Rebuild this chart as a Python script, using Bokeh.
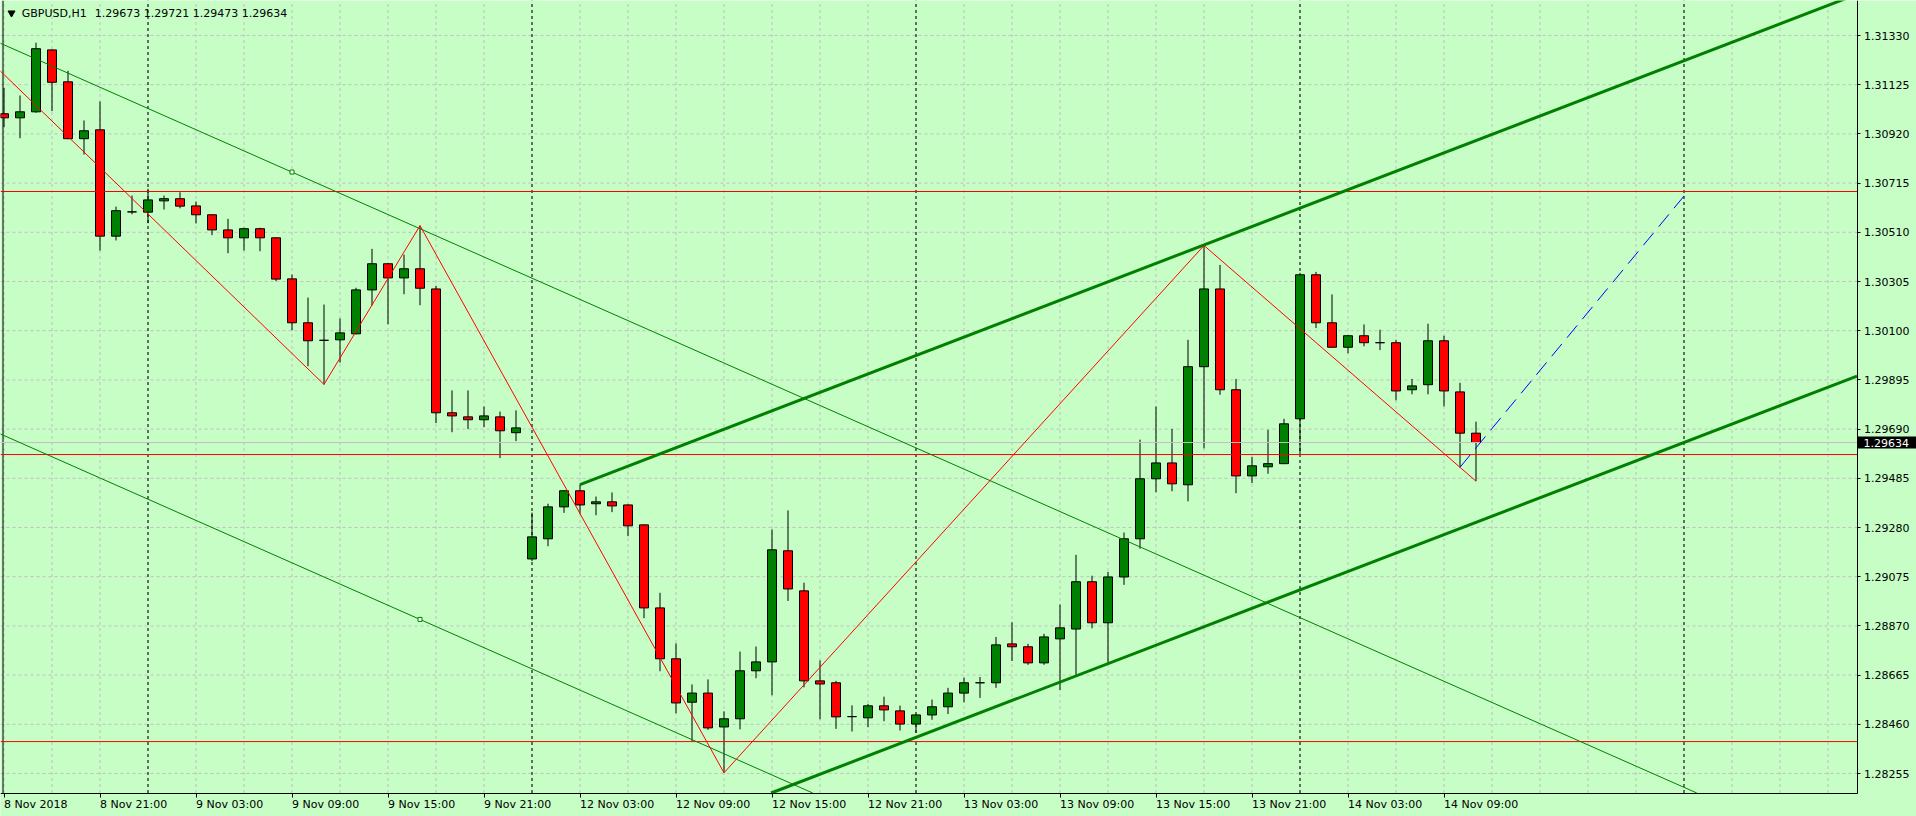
from bokeh.plotting import figure
from bokeh.models import FixedTicker, ColumnDataSource, Label
from bokeh.core.properties import value
from bokeh.embed import file_html
from bokeh.resources import INLINE

# ---------------- data ----------------
symbol_title = "GBPUSD,H1"
header_values = ["1.29673", "1.29721", "1.29473", "1.29634"]

opens = [1.31004, 1.30987, 1.31012, 1.31270, 1.31137, 1.30900, 1.30937, 1.30494, 1.30595, 1.30594,
         1.30641, 1.30650, 1.30620, 1.30583, 1.30520, 1.30487, 1.30525, 1.30487, 1.30316, 1.30133,
         1.30060, 1.30062, 1.30087, 1.30270, 1.30379, 1.30320, 1.30358, 1.30274, 1.29758, 1.29741,
         1.29729, 1.29741, 1.29675, 1.29149, 1.29233, 1.29366, 1.29433, 1.29379, 1.29387, 1.29374,
         1.29291, 1.28945, 1.28733, 1.28552, 1.28590, 1.28449, 1.28483, 1.28683, 1.28720, 1.29183,
         1.29016, 1.28641, 1.28633, 1.28492, 1.28487, 1.28537, 1.28516, 1.28461, 1.28499, 1.28533,
         1.28590, 1.28633, 1.28633, 1.28795, 1.28783, 1.28716, 1.28816, 1.28857, 1.29054, 1.28883,
         1.29074, 1.29233, 1.29483, 1.29549, 1.29458, 1.29950, 1.30274, 1.29854, 1.29495, 1.29533,
         1.29546, 1.29733, 1.30333, 1.30133, 1.30031, 1.30079, 1.30050, 1.30050, 1.29854, 1.29875,
         1.30058, 1.29845, 1.29673]
highs = [1.31112, 1.31080, 1.31300, 1.31272, 1.31183, 1.30976, 1.31055, 1.30617, 1.30663, 1.30691,
         1.30663, 1.30677, 1.30638, 1.30585, 1.30566, 1.30529, 1.30529, 1.30489, 1.30334, 1.30238,
         1.30209, 1.30151, 1.30279, 1.30441, 1.30381, 1.30417, 1.30538, 1.30287, 1.29851, 1.29851,
         1.29784, 1.29763, 1.29768, 1.29342, 1.29379, 1.29436, 1.29459, 1.29409, 1.29426, 1.29376,
         1.29293, 1.29008, 1.28797, 1.28626, 1.28647, 1.28514, 1.28763, 1.28784, 1.29272, 1.29351,
         1.29050, 1.28726, 1.28641, 1.28539, 1.28545, 1.28575, 1.28538, 1.28501, 1.28563, 1.28612,
         1.28654, 1.28657, 1.28824, 1.28885, 1.28795, 1.28837, 1.28959, 1.29166, 1.29079, 1.29095,
         1.29259, 1.29646, 1.29784, 1.29691, 1.30062, 1.30455, 1.30374, 1.29899, 1.29574, 1.29687,
         1.29733, 1.30341, 1.30345, 1.30251, 1.30081, 1.30126, 1.30104, 1.30062, 1.29899, 1.30129,
         1.30079, 1.29883, 1.29721]
lows = [1.30948, 1.30902, 1.31008, 1.31015, 1.30898, 1.30834, 1.30434, 1.30476, 1.30585, 1.30548,
        1.30605, 1.30610, 1.30547, 1.30498, 1.30423, 1.30434, 1.30431, 1.30306, 1.30102, 1.29952,
        1.29876, 1.29967, 1.30085, 1.30205, 1.30127, 1.30252, 1.30206, 1.29715, 1.29677, 1.29690,
        1.29698, 1.29569, 1.29640, 1.29140, 1.29202, 1.29341, 1.29337, 1.29331, 1.29344, 1.29244,
        1.28902, 1.28681, 1.28506, 1.28389, 1.28437, 1.28258, 1.28439, 1.28652, 1.28581, 1.28974,
        1.28614, 1.28481, 1.28441, 1.28430, 1.28448, 1.28473, 1.28434, 1.28425, 1.28479, 1.28503,
        1.28552, 1.28570, 1.28612, 1.28724, 1.28708, 1.28708, 1.28603, 1.28666, 1.28860, 1.28716,
        1.29041, 1.29192, 1.29427, 1.29431, 1.29389, 1.29610, 1.29833, 1.29423, 1.29465, 1.29504,
        1.29544, 1.29583, 1.30111, 1.30029, 1.30006, 1.30035, 1.30019, 1.29810, 1.29835, 1.29835,
        1.29785, 1.29531, 1.29473]
closes = [1.30987, 1.31012, 1.31275, 1.31135, 1.30900, 1.30933, 1.30494, 1.30600, 1.30595, 1.30645,
          1.30650, 1.30619, 1.30583, 1.30520, 1.30487, 1.30525, 1.30487, 1.30315, 1.30133, 1.30058,
          1.30060, 1.30091, 1.30270, 1.30379, 1.30320, 1.30358, 1.30277, 1.29758, 1.29745, 1.29729,
          1.29745, 1.29683, 1.29695, 1.29241, 1.29366, 1.29433, 1.29374, 1.29387, 1.29370, 1.29287,
          1.28945, 1.28733, 1.28549, 1.28590, 1.28445, 1.28483, 1.28683, 1.28720, 1.29187, 1.29024,
          1.28641, 1.28628, 1.28491, 1.28492, 1.28537, 1.28520, 1.28461, 1.28499, 1.28533, 1.28590,
          1.28633, 1.28633, 1.28791, 1.28783, 1.28716, 1.28824, 1.28862, 1.29054, 1.28883, 1.29074,
          1.29233, 1.29483, 1.29549, 1.29462, 1.29950, 1.30274, 1.29854, 1.29495, 1.29537, 1.29546,
          1.29712, 1.30333, 1.30133, 1.30031, 1.30079, 1.30050, 1.30050, 1.29849, 1.29870, 1.30058,
          1.29849, 1.29673, 1.29634]
bar_index = list(range(len(opens)))

x_tick_bars = [0, 6, 12, 18, 24, 30, 36, 42, 48, 54, 60, 66, 72, 78, 84, 90]
x_tick_labels = ["8 Nov 2018", "8 Nov 21:00", "9 Nov 03:00", "9 Nov 09:00", "9 Nov 15:00",
                 "9 Nov 21:00", "12 Nov 03:00", "12 Nov 09:00", "12 Nov 15:00", "12 Nov 21:00",
                 "13 Nov 03:00", "13 Nov 09:00", "13 Nov 15:00", "13 Nov 21:00", "14 Nov 03:00",
                 "14 Nov 09:00"]
x_grid_bars = list(range(0, 116, 3))
day_separator_bars = [9, 33, 57, 81, 105]

y_ticks = [1.28255, 1.28460, 1.28665, 1.28870, 1.29075, 1.29280, 1.29485, 1.29690,
           1.29895, 1.30100, 1.30305, 1.30510, 1.30715, 1.30920, 1.31125, 1.31330]
y_tick_labels = ["1.28255", "1.28460", "1.28665", "1.28870", "1.29075", "1.29280", "1.29485", "1.29690",
                 "1.29895", "1.30100", "1.30305", "1.30510", "1.30715", "1.30920", "1.31125", "1.31330"]

bid_price = 1.29634
bid_label = "1.29634"
level_prices = [1.30680, 1.29584, 1.28388]

zigzag_bars = [-3, 20, 26, 45, 75, 92]
zigzag_prices = [1.31361, 1.29876, 1.30538, 1.28258, 1.30455, 1.29473]

projection_bars = [91, 105]
projection_prices = [1.29531, 1.30661]

thin_upper_bars = [-2, 110]
thin_upper_prices = [1.31350, 1.28050]
thin_lower_bars = [-2, 110]
thin_lower_prices = [1.29722, 1.26422]
thin_anchor_bars = [18, 26]
thin_anchor_prices = [1.30761, 1.28897]

thick_upper_bars = [36, 125]
thick_upper_prices = [1.29459, 1.31737]
thick_lower_bars = [36, 125]
thick_lower_prices = [1.27868, 1.30146]

# ---------------- layout constants ----------------
BG = "#c6fec6"
GREEN = "#008000"
RED = "#ff0000"
GRID = "#c0c0c0"
FONT = "DejaVu Sans"
W, H = 1916, 816
PX = 0.00205 / 49.2                      # price per screen pixel
BAR_PX = 16.0                            # screen pixels per bar
X_OFF = 3.5                              # screen x of bar 0


def sx(px):      # screen x -> bar coordinate
    return (px - X_OFF) / BAR_PX


def sy(py):      # screen y -> price
    return 1.31330 - (py - 35) * PX


X0, X1 = sx(0), sx(W)
Y0, Y1 = sy(H), sy(0)
XR = sx(1856.5)      # right border of the chart area
YB = sy(792.5)       # bottom border of the chart area
XL = sx(2.5)         # left border


def clip(xs, ys, xmax, ymin):
    (x0, x1), (y0, y1) = xs, ys
    dx, dy = x1 - x0, y1 - y0
    t0, t1 = 0.0, 1.0
    for p_, q_ in ((dx, xmax - x0), (-dy, y0 - ymin)):
        if p_ == 0:
            continue
        r = q_ / p_
        if p_ < 0:
            t0 = max(t0, r)
        else:
            t1 = min(t1, r)
    return [x0 + t0 * dx, x0 + t1 * dx], [y0 + t0 * dy, y0 + t1 * dy]


# DejaVu Sans advance widths (em) for label-width estimates
ADV = {" ": 0.318, ":": 0.337, "N": 0.748, "o": 0.612, "v": 0.592}


def text_w(s, size=11):
    return sum(ADV.get(ch, 0.636) for ch in s) * size


p = figure(width=W, height=H, x_range=(X0, X1), y_range=(Y0, Y1),
           y_axis_location="right", output_backend="svg", toolbar_location=None,
           min_border=0, min_border_left=0, min_border_right=0,
           min_border_top=0, min_border_bottom=0)
p.background_fill_color = BG
p.border_fill_color = BG
p.outline_line_color = None
p.xgrid.visible = False
p.ygrid.visible = False

# grid (limited to the chart area)
gx = [b for b in x_grid_bars if X0 < b < XR]
p.segment(x0=gx, y0=[YB] * len(gx), x1=gx, y1=[Y1] * len(gx),
          line_color=GRID, line_dash="3 3", line_width=1)
p.segment(x0=[X0] * len(y_ticks), y0=y_ticks, x1=[XR] * len(y_ticks), y1=y_ticks,
          line_color=GRID, line_dash="3 3", line_width=1)

# day separators
p.segment(x0=day_separator_bars, y0=[YB] * len(day_separator_bars),
          x1=day_separator_bars, y1=[Y1] * len(day_separator_bars),
          line_color="black", line_dash="3 3", line_width=1)

# left border
p.segment(x0=[XL], y0=[YB], x1=[XL], y1=[Y1], line_color="black", line_width=1)

# candles
src = ColumnDataSource(dict(x=bar_index, l=lows, h=highs))
p.segment(x0="x", y0="l", x1="x", y1="h", source=src, line_color="black", line_width=1)
up = [i for i in bar_index if closes[i] > opens[i]]
dn = [i for i in bar_index if closes[i] < opens[i]]
dj = [i for i in bar_index if closes[i] == opens[i]]
BW = 9 / BAR_PX
p.vbar(x=up, top=[closes[i] for i in up], bottom=[opens[i] for i in up], width=BW,
       fill_color=GREEN, line_color="black", line_width=1)
p.vbar(x=dn, top=[opens[i] for i in dn], bottom=[closes[i] for i in dn], width=BW,
       fill_color=RED, line_color="black", line_width=1)
p.vbar(x=dj, top=[opens[i] for i in dj], bottom=[closes[i] for i in dj], width=BW,
       fill_color="black", line_color="black", line_width=1)

# horizontal levels and bid line
p.segment(x0=[X0] * len(level_prices), y0=level_prices, x1=[XR] * len(level_prices),
          y1=level_prices, line_color=RED, line_width=1)
p.segment(x0=[X0], y0=[bid_price], x1=[XR], y1=[bid_price], line_color=GRID, line_width=1)

# channels
for bx, by, lw in ((thin_upper_bars, thin_upper_prices, 1),
                   (thin_lower_bars, thin_lower_prices, 1),
                   (thick_upper_bars, thick_upper_prices, 3),
                   (thick_lower_bars, thick_lower_prices, 3)):
    cx, cy = clip(bx, by, XR, YB)
    p.line(cx, cy, line_color=GREEN, line_width=lw)
p.scatter(thin_anchor_bars, thin_anchor_prices, marker="square", size=4,
          fill_color="#ffffff", line_color=GREEN, line_width=1)

# zigzag and projection
p.line(zigzag_bars, zigzag_prices, line_color=RED, line_width=1)
p.line(projection_bars, projection_prices, line_color="#0000ff", line_width=1, line_dash="16 8")

# price axis (right) at the chart border
p.yaxis.fixed_location = XR
p.yaxis.bounds = (YB, Y1)
p.yaxis.ticker = FixedTicker(ticks=y_ticks)
p.yaxis.major_label_overrides = dict(zip(y_ticks, y_tick_labels))
p.yaxis.major_label_text_font = FONT
p.yaxis.major_label_text_font_size = "11px"
p.yaxis.major_label_text_color = "black"
p.yaxis.major_label_standoff = 4
p.yaxis.major_tick_out = 3
p.yaxis.major_tick_in = 0
p.yaxis.minor_tick_line_color = None
p.yaxis.axis_line_color = "black"
p.yaxis.major_tick_line_color = "black"

# time axis (bottom): labels start at their tick as in the terminal
label_pos = [b + text_w(t) / 2 / BAR_PX for b, t in zip(x_tick_bars, x_tick_labels)]
p.xaxis.fixed_location = YB
p.xaxis.bounds = (X0, XR)
p.xaxis.ticker = FixedTicker(ticks=label_pos, minor_ticks=x_tick_bars)
p.xaxis.major_label_overrides = dict(zip(label_pos, x_tick_labels))
p.xaxis.major_label_text_font = FONT
p.xaxis.major_label_text_font_size = "11px"
p.xaxis.major_label_text_color = "black"
p.xaxis.major_label_standoff = 1
p.xaxis.major_tick_line_color = None
p.xaxis.major_tick_out = 4
p.xaxis.major_tick_in = 0
p.xaxis.minor_tick_out = 4
p.xaxis.minor_tick_in = 0
p.xaxis.minor_tick_line_color = "black"
p.xaxis.axis_line_color = "black"

# bid price box on the price scale
p.quad(left=[sx(1857.5)], right=[X1], bottom=[bid_price - 6 * PX], top=[bid_price + 6 * PX],
       fill_color="black", line_color=None)
p.text(x=[sx(1863)], y=[bid_price], text=[bid_label], text_font=value(FONT),
       text_font_size="11px", text_color="white", text_align="left", text_baseline="middle")

# header
p.scatter([sx(11)], [sy(12.5)], marker="inverted_triangle", size=7,
          fill_color="black", line_color="black")
p.add_layout(Label(x=sx(21.3), y=sy(12.7), text=symbol_title, text_font=FONT,
                   text_font_size="11px", text_color="black", text_align="left",
                   text_baseline="middle"))
p.add_layout(Label(x=sx(94.3), y=sy(12.7), text=" ".join(header_values), text_font=FONT,
                   text_font_size="11px", text_color="black", text_align="left",
                   text_baseline="middle"))

open("out.html", "w").write(file_html(p, INLINE))
